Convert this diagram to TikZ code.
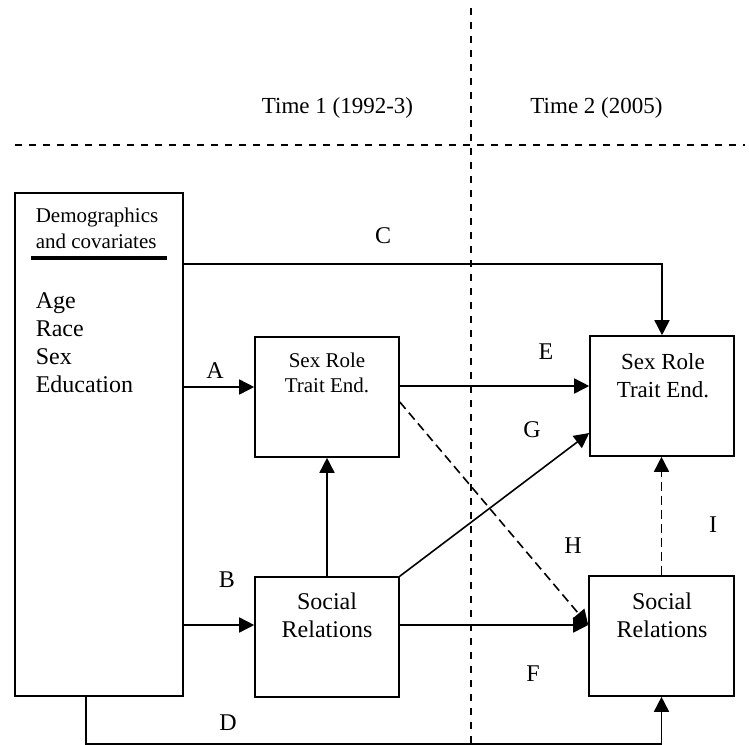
\documentclass[tikz,border=0pt]{standalone}
\usepackage{fontspec}
\setmainfont{Liberation Serif}
\usetikzlibrary{positioning,arrows.meta}
\tikzstyle{box}=[draw,rectangle,inner sep=0pt]
\tikzstyle{lbl}=[font=\fontsize{12}{14}\selectfont,anchor=base,inner sep=0pt]
\tikzstyle{link}=[->]
\tikzstyle{weak}=[->,dash pattern=on 4.5pt off 2.5pt]
\tikzstyle{divider}=[line width=0.8pt,dash pattern=on 3.5pt off 3.5pt]
\newcommand{\newBox}[4]{\node[box,minimum width=#3,minimum height=#4](#1) at #2 {};}
\newcommand{\newLabel}[3]{\node[lbl](#1) at #2 {#3};}

\begin{document}
\begin{tikzpicture}[x=0.5pt,y=-0.5pt,
  >={Triangle[length=7.5pt,width=7.5pt]},
  line width=0.8pt
  ]
  \useasboundingbox (0,0) rectangle (749,744);
  % the two waves
  \draw[divider] (15,145) -- (745,145);
  \draw[divider] (471,8) -- (471,744);
  \node[lbl,font=\fontsize{11.5}{14}\selectfont] (time1) at (337.5,113) {Time 1 (1992-3)};
  \node[lbl,font=\fontsize{11.5}{14}\selectfont] (time2) at (596.5,113) {Time 2 (2005)};

  \newBox{dem}{(99,444.5)}{84pt}{251.5pt}
  \newBox{sr1}{(327,397)}{72pt}{60pt}
  \newBox{soc1}{(327,637)}{72pt}{60pt}
  \newBox{sr2}{(662,396)}{72pt}{60pt}
  \newBox{soc2}{(661.5,636)}{72.5pt}{60pt}

  % last line sits on the given point
  \node[lbl,align=left,anchor=base west,font=\fontsize{10.5}{13}\selectfont] (demhead) at (35,248) {Demographics\\and covariates};
  \draw[line width=2pt] (31,258) -- (167,258);
  \node[lbl,align=left,anchor=base west] (demlist) at (35,392) {Age\\Race\\Sex\\Education};
  \node[lbl,align=center,font=\fontsize{10.5}{12.5}\selectfont] (sr1txt) at (327,392) {Sex Role\\Trait End.};
  \node[lbl,align=center,font=\fontsize{11.5}{14}\selectfont] (sr2txt) at (663,397) {Sex Role\\Trait End.};
  \node[lbl,align=center] (soc1txt) at (327,637) {Social\\Relations};
  \node[lbl,align=center] (soc2txt) at (662,637) {Social\\Relations};

  \coordinate (cA) at ([yshift=5pt]sr1.west);
  \coordinate (cB) at ([yshift=6pt]soc1.west);
  \coordinate (cC) at ([yshift=90.25pt]dem.east);
  \coordinate (cD) at ([xshift=-6.5pt]dem.south);
  \coordinate (cE) at ([yshift=5.5pt]sr1.east);
  \coordinate (cG) at ([yshift=-18.5pt]sr2.west);
  \coordinate (cH) at ([yshift=-2.5pt]sr1.east);
  \coordinate (cF) at ([yshift=6pt]soc1.east);

  \draw[link] (cC) -| (sr2.north);
  \draw[link] (cA -| dem.east) -- (cA);
  \draw[link] (cB -| dem.east) -- (cB);
  \draw[link] (cD) -- ++(0,47) -| (soc2.south);
  \draw[link] (cE) -- (cE -| sr2.west);
  \draw[link] (soc1.north) -- (sr1.south);
  \draw[link] (soc1.north east) -- (cG);
  \draw[weak] (cH) -- (cF -| soc2.west);
  \draw[link] (cF) -- (cF -| soc2.west);
  \draw[weak] (soc2.north) -- (soc2.north |- sr2.south);

  \newLabel{lA}{(215,378)}{A}
  \newLabel{lB}{(227,587)}{B}
  \newLabel{lC}{(383,243)}{C}
  \newLabel{lD}{(228,730)}{D}
  \newLabel{lE}{(546,359)}{E}
  \newLabel{lF}{(533,681)}{F}
  \newLabel{lG}{(532,437)}{G}
  \newLabel{lH}{(573,553)}{H}
  \newLabel{lI}{(713,532)}{I}
\end{tikzpicture}
\end{document}
